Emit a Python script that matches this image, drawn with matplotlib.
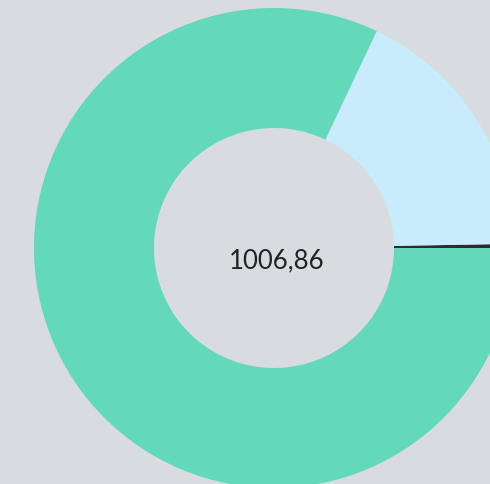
import matplotlib
matplotlib.use("Agg")
import matplotlib.pyplot as plt

labels = ["A", "B", "C"]
values = [2.8, 178.0, 826.06]
colors = ["#2b2b31", "#c8ecfc", "#64d8bb"]
center_text = "1006,86"

W, H = 490, 485
cx, cy, R = 274, 249, 240

fig = plt.figure(figsize=(W / 100, H / 100), dpi=100)
fig.patch.set_facecolor("#d8dce0")
ax = fig.add_axes([0, 0, 1, 1])
ax.set_facecolor("#d8dce0")
ax.pie(values, colors=colors, startangle=0, counterclock=True,
       radius=1.0, wedgeprops=dict(width=0.5, edgecolor="none"))
ax.set_xlim(-cx / R, (W - cx) / R)
ax.set_ylim(-(H - cy) / R, cy / R)
ax.set_aspect("auto")
ax.axis("off")
ax.text(0.01, -(261 - cy) / R, center_text, ha="center", va="center",
        fontsize=18.5, color="#222222", family="Lato")
fig.savefig("out.png", dpi=100, facecolor=fig.get_facecolor())
